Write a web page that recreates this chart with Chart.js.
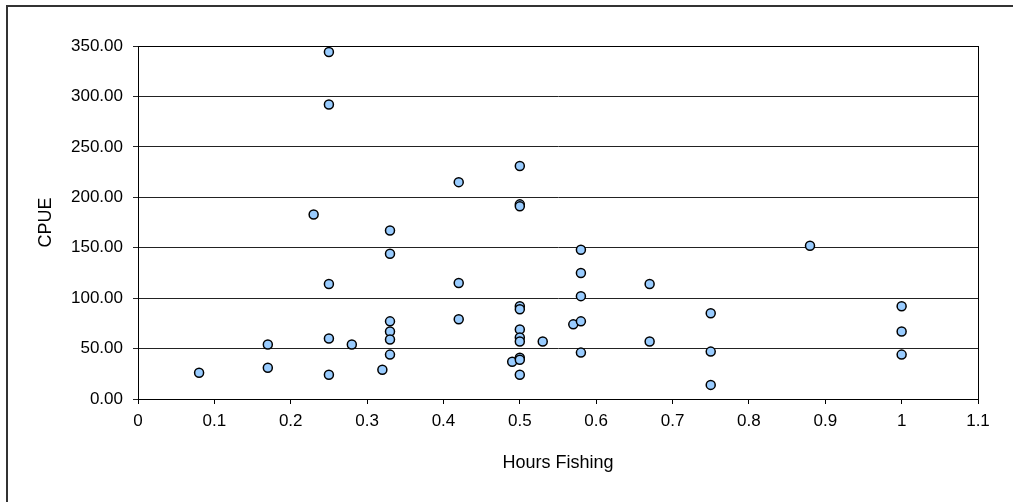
<!DOCTYPE html>
<html>
<head>
<meta charset="utf-8">
<script src="https://cdn.jsdelivr.net/npm/chart.js@4.4.0/dist/chart.umd.min.js"></script>
<style>
  html, body { margin: 0; padding: 0; background: #fff; }
  #wrap { width: 1013px; height: 502px; position: relative; }
</style>
</head>
<body>
<div id="wrap"><canvas id="chart" width="1013" height="502"></canvas></div>
<script>
// horas de pesca x CPUE
var hours = [0.08, 0.17, 0.17, 0.23, 0.25, 0.25, 0.25, 0.25, 0.25, 0.28, 0.32,
             0.33, 0.33, 0.33, 0.33, 0.33, 0.33, 0.42, 0.42, 0.42, 0.49,
             0.5, 0.5, 0.5, 0.5, 0.5, 0.5, 0.5, 0.5, 0.5, 0.5, 0.5,
             0.53, 0.57, 0.58, 0.58, 0.58, 0.58, 0.58, 0.67, 0.67,
             0.75, 0.75, 0.75, 0.88, 1.0, 1.0, 1.0];
var cpue  = [26, 54, 31, 183, 344, 292, 114, 60, 24, 54, 29,
             167, 144, 77, 67, 59, 44, 215, 115, 79, 37,
             231, 193, 191, 92, 89, 69, 61, 57, 41, 39, 24,
             57, 74, 148, 125, 102, 77, 46, 114, 57,
             85, 47, 14, 152, 92, 67, 44];
var xTicks = [0, 0.1, 0.2, 0.3, 0.4, 0.5, 0.6, 0.7, 0.8, 0.9, 1, 1.1];
var yTicks = [0, 50, 100, 150, 200, 250, 300, 350];

var pts = hours.map(function(h, i) { return { x: h, y: cpue[i] }; });

var frame = {
  id: 'frame',
  beforeDraw: function(chart) {
    var c = chart.ctx;
    c.save();
    c.strokeStyle = '#333';
    c.lineWidth = 2;
    c.strokeRect(7, 6, 1100, 600);
    c.restore();
  },
  beforeDatasetsDraw: function(chart) {
    var a = chart.chartArea, c = chart.ctx;
    c.save();
    c.strokeStyle = '#000';
    c.lineWidth = 1;
    c.strokeRect(Math.round(a.left) + 0.5, Math.round(a.top) + 0.5,
                 Math.round(a.right - a.left), Math.round(a.bottom - a.top));
    c.restore();
  }
};

Chart.defaults.font.family = "'Liberation Sans', Arial, sans-serif";
Chart.defaults.color = '#000';

new Chart(document.getElementById('chart'), {
  type: 'scatter',
  data: {
    datasets: [{
      data: pts,
      backgroundColor: '#99CCFF',
      borderColor: '#000',
      borderWidth: 1.5,
      pointRadius: 4.5,
      pointHoverRadius: 4.5
    }]
  },
  options: {
    responsive: false,
    animation: false,
    layout: { padding: { left: 0, top: 46, right: 35, bottom: 0 } },
    plugins: { legend: { display: false }, tooltip: { enabled: false } },
    scales: {
      x: {
        type: 'linear', min: 0, max: 1.1,
        afterBuildTicks: function(s) { s.ticks = xTicks.map(function(v){ return { value: v }; }); },
        afterFit: function(s) { s.height = 103; },
        grid: { drawOnChartArea: false, drawTicks: true, tickLength: 5, color: '#000' },
        border: { color: '#000', width: 1 },
        ticks: {
          font: { size: 17 }, padding: 7, maxRotation: 0, autoSkip: false,
          callback: function(v) { return String(Math.round(v * 10) / 10); }
        },
        title: { display: true, text: 'Hours Fishing', font: { size: 18 }, padding: { top: 0, bottom: 28 } }
      },
      y: {
        min: 0, max: 350,
        afterBuildTicks: function(s) { s.ticks = yTicks.map(function(v){ return { value: v }; }); },
        afterFit: function(s) { s.width = 138; },
        grid: { color: '#222', lineWidth: 1, tickLength: 5 },
        border: { color: '#000', width: 1 },
        ticks: {
          font: { size: 17 }, padding: 10,
          callback: function(v) { return v.toFixed(2); }
        },
        title: { display: true, text: 'CPUE', font: { size: 18 }, padding: { top: 35, bottom: 0 } }
      }
    }
  },
  plugins: [frame]
});
</script>
</body>
</html>
